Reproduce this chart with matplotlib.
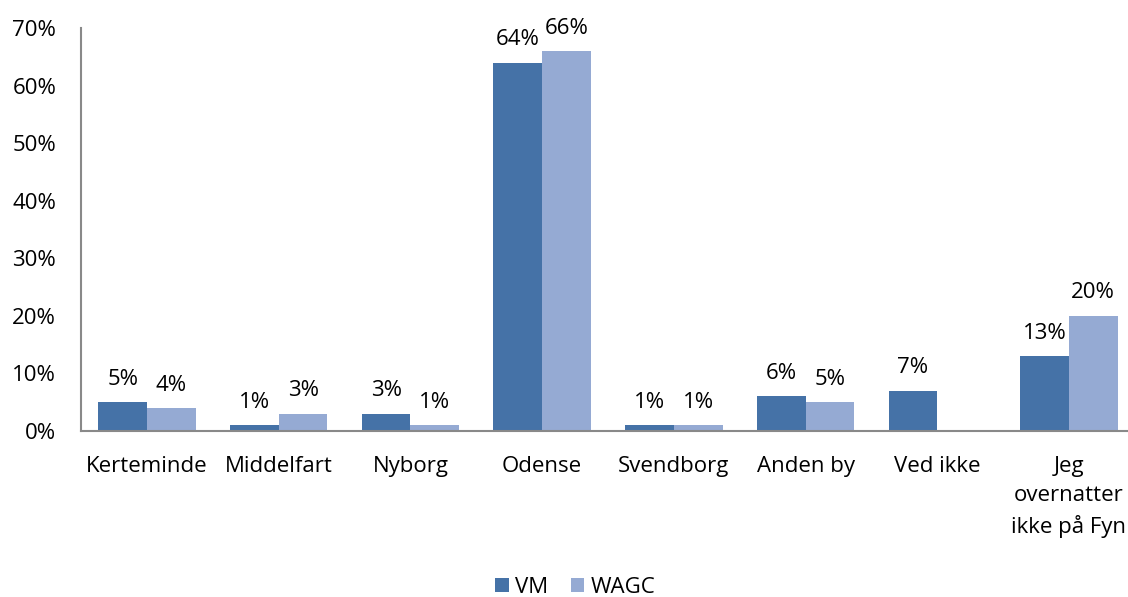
import numpy as np
import matplotlib.pyplot as plt

plt.rcParams['font.family'] = ['Open Sans', 'DejaVu Sans']

categories = ["Kerteminde", "Middelfart", "Nyborg", "Odense", "Svendborg",
              "Anden by", "Ved ikke", "Jeg\novernatter\nikke på Fyn"]
vm = [5, 1, 3, 64, 1, 6, 7, 13]
wagc = [4, 3, 1, 66, 1, 5, None, 20]

fig = plt.figure(figsize=(11.28, 5.97), dpi=100)
ax = fig.add_axes([0.072, 0.278, 0.934, 0.675])

x = np.arange(len(categories))
width = 0.37
c_vm = "#4572A7"
c_wagc = "#95AAD3"

ax.bar(x - width / 2, vm, width, color=c_vm, label="VM")
wagc_vals = [np.nan if v is None else v for v in wagc]
ax.bar(x + width / 2, wagc_vals, width, color=c_wagc, label="WAGC")

for i, v in enumerate(vm):
    ax.annotate(f"{v}%", (x[i] - width / 2, v), xytext=(0, 9),
                textcoords="offset points", ha="center", va="bottom", fontsize=16)
for i, v in enumerate(wagc):
    if v is None:
        continue
    ax.annotate(f"{v}%", (x[i] + width / 2, v), xytext=(0, 9),
                textcoords="offset points", ha="center", va="bottom", fontsize=16)

ax.set_xlim(-0.5, len(categories) - 0.5)
ax.set_ylim(0, 70)
ax.set_yticks(range(0, 71, 10))
ax.set_yticklabels([f"{t}%" for t in range(0, 71, 10)])
ax.set_xticks(x)
ax.set_xticklabels(categories, linespacing=1.5, va="top")
ax.tick_params(axis="both", length=0, labelsize=16)
ax.tick_params(axis="x", pad=18)
ax.tick_params(axis="y", pad=18)

for s in ["top", "right"]:
    ax.spines[s].set_visible(False)
for s in ["left", "bottom"]:
    ax.spines[s].set_color("#898989")
    ax.spines[s].set_linewidth(1.5)

fig.legend(loc="lower center", bbox_to_anchor=(0.51, -0.035), ncol=2, frameon=False,
           fontsize=16, handlelength=0.6, handleheight=0.6, handletextpad=0.3,
           columnspacing=1.0)

fig.savefig("out.png", dpi=100)
